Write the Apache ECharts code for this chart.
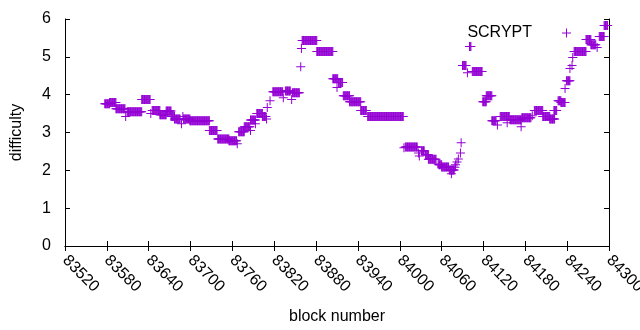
<!DOCTYPE html>
<html>
<head>
<meta charset="utf-8">
<script src="https://cdn.jsdelivr.net/npm/echarts@6/dist/echarts.min.js"></script>
<style>
  html, body { margin: 0; padding: 0; background: #fff; }
  #chart { width: 640px; height: 330px; }
</style>
</head>
<body>
<div id="chart"></div>
<script>
// difficulty holds steady between retargets, so the picture reads as runs
// runStart / runEnd are block numbers, runValue the difficulty over that run
var runStart = [83577, 83584, 83593, 83607, 83609, 83630, 83643, 83645, 83656, 83665,
  83672, 83677, 83687, 83689, 83690, 83699, 83727, 83739, 83755, 83767,
  83769, 83777, 83786, 83786, 83793, 83795, 83803, 83809, 83810, 83814,
  83818, 83833, 83836, 83845, 83846, 83858, 83859, 83860, 83881, 83904,
  83910, 83912, 83919, 83928, 83944, 83954, 84006, 84008, 84027, 84028,
  84031, 84037, 84041, 84055, 84056, 84060, 84071, 84074, 84079, 84080,
  84082, 84084, 84087, 84088, 84090, 84097, 84100, 84104, 84119, 84124,
  84132, 84140, 84144, 84154, 84158, 84174, 84175, 84190, 84193, 84205,
  84215, 84221, 84227, 84231, 84237, 84239, 84244, 84247, 84248, 84250,
  84267, 84274, 84283, 84286, 84293]
var runEnd = [83584, 83593, 83606, 83607, 83630, 83642, 83643, 83656, 83665, 83672,
  83677, 83685, 83687, 83689, 83699, 83727, 83738, 83755, 83766, 83767,
  83777, 83785, 83786, 83793, 83793, 83803, 83808, 83809, 83810, 83814,
  83832, 83833, 83843, 83845, 83856, 83858, 83859, 83881, 83904, 83911,
  83910, 83918, 83928, 83944, 83952, 84005, 84006, 84025, 84027, 84028,
  84035, 84041, 84052, 84055, 84060, 84070, 84078, 84074, 84079, 84080,
  84082, 84084, 84087, 84088, 84095, 84097, 84102, 84118, 84124, 84132,
  84138, 84140, 84157, 84154, 84174, 84174, 84188, 84190, 84205, 84215,
  84222, 84225, 84231, 84237, 84237, 84244, 84244, 84247, 84248, 84267,
  84274, 84281, 84283, 84293, 84298]
var runValue = [3.76, 3.79, 3.63, 3.42, 3.55, 3.87, 3.50, 3.58, 3.47, 3.57,
  3.42, 3.36, 3.23, 3.42, 3.36, 3.31, 3.05, 2.83, 2.78, 2.70,
  3.02, 3.15, 3.05, 3.33, 3.23, 3.50, 3.42, 3.36, 3.66, 3.84,
  4.08, 3.92, 4.10, 3.87, 4.05, 4.74, 5.22, 5.43, 5.14, 4.42,
  4.19, 4.32, 3.97, 3.81, 3.58, 3.42, 2.60, 2.62, 2.46, 2.38,
  2.52, 2.41, 2.29, 2.17, 2.15, 2.09, 2.01, 1.91, 2.08, 2.15,
  2.22, 2.30, 2.46, 2.73, 4.77, 4.58, 5.27, 4.61, 3.81, 3.97,
  3.31, 3.20, 3.42, 3.26, 3.34, 3.15, 3.39, 3.44, 3.58, 3.42,
  3.36, 3.58, 3.84, 3.79, 4.16, 4.37, 4.69, 4.77, 4.98, 5.14,
  5.46, 5.32, 5.25, 5.54, 5.83]

var seriesName = 'SCRYPT'
var xMin = 83520
var xMax = 84300
var xStep = 60
var yMin = 0
var yMax = 6

// one point per block inside each run
var points = []
for (var i = 0; i < runStart.length; i++) {
  for (var b = runStart[i]; b <= runEnd[i]; b++) {
    points.push([b, runValue[i]])
  }
}

var plus = 'path://M4,0h1v9h-1z M0,4h9v1h-9z'
var font = 'Liberation Sans'
var ink = '#000'
var fs = 16

var myChart = echarts.init(document.getElementById('chart'), null, { renderer: 'canvas' })
myChart.setOption({
  animation: false,
  backgroundColor: '#fff',
  textStyle: { fontFamily: font },
  legend: {
    right: 64,
    top: 20,
    align: 'right',
    itemWidth: 9,
    itemHeight: 9,
    textStyle: { fontFamily: font, fontSize: fs, color: '#000', padding: [0, 25, 0, 0] },
    data: [{ name: seriesName, icon: plus, itemStyle: { color: '#9400d3', borderWidth: 0 } }]
  },
  grid: {
    left: 65,
    right: 31,
    top: 19,
    bottom: 84,
    outerBoundsMode: 'none',
    containLabel: false
  },
  xAxis: [{
    type: 'value',
    min: xMin,
    max: xMax,
    interval: xStep,
    name: 'block number',
    nameLocation: 'middle',
    nameGap: 63,
    nameTextStyle: { fontFamily: font, fontSize: fs, color: ink },
    splitLine: { show: false },
    axisLine: { lineStyle: { color: ink, width: 1 } },
    axisTick: { inside: true, length: 5, lineStyle: { color: ink } },
    axisLabel: {
      rotate: -45,
      margin: 12,
      fontFamily: font,
      fontSize: fs,
      color: ink,
      showMinLabel: true,
      showMaxLabel: true,
      formatter: function (v) { return String(v) }
    }
  }, {
    type: 'value',
    position: 'top',
    min: xMin,
    max: xMax,
    interval: xStep,
    splitLine: { show: false },
    axisLine: { lineStyle: { color: ink, width: 1 } },
    axisTick: { inside: true, length: 5, lineStyle: { color: ink } },
    axisLabel: { show: false }
  }],
  yAxis: [{
    type: 'value',
    min: yMin,
    max: yMax,
    interval: 1,
    name: 'difficulty',
    nameLocation: 'middle',
    nameGap: 40,
    nameTextStyle: { fontFamily: font, fontSize: fs, color: ink },
    splitLine: { show: false },
    axisLine: { show: true, lineStyle: { color: ink, width: 1 } },
    axisTick: { show: true, inside: true, length: 5, lineStyle: { color: ink } },
    axisLabel: { margin: 14, fontFamily: font, fontSize: fs, color: ink }
  }, {
    type: 'value',
    position: 'right',
    min: yMin,
    max: yMax,
    interval: 1,
    splitLine: { show: false },
    axisLine: { show: true, lineStyle: { color: ink, width: 1 } },
    axisTick: { show: true, inside: true, length: 5, lineStyle: { color: ink } },
    axisLabel: { show: false }
  }],
  series: [{
    name: seriesName,
    type: 'scatter',
    symbol: plus,
    symbolSize: 9,
    itemStyle: { color: '#9400d3', borderWidth: 0, opacity: 1 },
    emphasis: { disabled: true },
    data: points
  }]
})
</script>
</body>
</html>
